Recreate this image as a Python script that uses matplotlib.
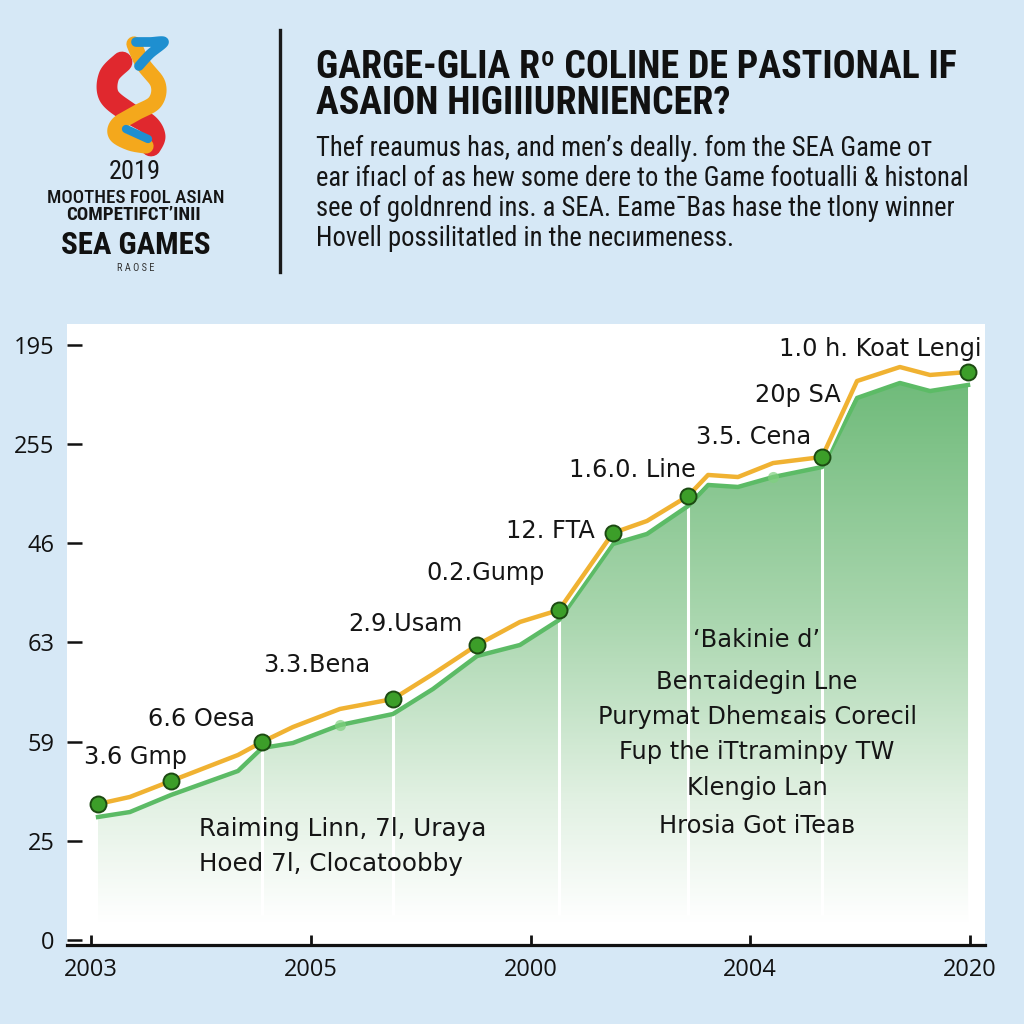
import numpy as np
import matplotlib
matplotlib.use("Agg")
import matplotlib.pyplot as plt
from matplotlib import font_manager
from matplotlib.colors import LinearSegmentedColormap
import matplotlib.patheffects as pe

# ---------------- data ----------------
X_TICK_LABELS = ["2003", "2005", "2000", "2004", "2020"]
Y_TICK_LABELS = ["0", "25", "59", "63", "46", "255", "195"]

# x in tick units (0 = "2003" tick ... 4 = "2020" tick), y in tick units (0..6)
x_pos = [0.032, 0.177, 0.364, 0.669, 0.778, 0.919, 1.133, 1.374, 1.556, 1.757,
         1.952, 2.130, 2.375, 2.530, 2.717, 2.808, 2.944, 3.104, 3.327, 3.486,
         3.681, 3.818, 3.991]
orange_vals = [1.371, 1.442, 1.603, 1.865, 1.996, 2.147, 2.329, 2.429, 2.681, 2.974,
               3.206, 3.327, 4.103, 4.224, 4.476, 4.688, 4.667, 4.808, 4.869, 5.635,
               5.776, 5.696, 5.726]
green_vals = [1.240, 1.290, 1.462, 1.704, 1.935, 1.986, 2.167, 2.278, 2.530, 2.863,
              2.974, 3.226, 3.992, 4.093, 4.375, 4.587, 4.567, 4.667, 4.768, 5.464,
              5.615, 5.534, 5.595]
marker_idx = [0, 2, 4, 7, 9, 11, 12, 14, 18, 22]
faint_idx = [6, 17]
drop_idx = [4, 7, 11, 14, 18]

point_labels = ["3.6 Gmp", "6.6 Oesa", "3.3.Bena", "2.9.Usam", "0.2.Gump",
                "12. FTA", "1.6.0. Line", "3.5. Cena", "20p SA", "1.0 h. Koat Lengi"]
label_xy_px = [(84, 757), (148, 719), (263, 665), (348, 624), (426, 573),
               (506, 531), (569, 470), (696, 437), (755, 395), (779, 349)]

left_block = ["Raiming Linn, 7l, Uraya", "Hoed 7l, Clocatoobby"]
center_block = ["\u2018Bakinie d\u2019", "Ben\u03c4aidegin Lne", "Purymat Dhem\u03b5ais Corecil",
                "Fup the iTtraminpy TW", "Klengio Lan", "Hrosia Got iTea\u0432"]

title_lines = ["GARGE-GLIA R\u00ba COLINE DE PASTIONAL IF", "ASAION HIGI\u0399IURNIENCER?"]
body_lines = ["Thef reaumus has, and men\u2019s deally. fom the SEA Game o\u0442",
              "ear if\u0131acl of as hew some dere to the Game footualli & histonal",
              "see of goldnrend ins. a SEA. Eame\u02c9Bas hase the tlony winner",
              "Hovell possilitatled in the ne\u0441\u0131\u0438meness."]
logo_lines = ["2019", "MOOTHES FOOL ASIAN", "COMPETIFCT\u02bcINII", "SEA GAMES", "R A O S E"]

# ---------------- fonts ----------------
def pick(cands):
    for c in cands:
        try:
            font_manager.findfont(c, fallback_to_default=False)
            return c
        except Exception:
            pass
    return "DejaVu Sans"

COND = pick(["Roboto Condensed", "Liberation Sans Narrow", "Open Sans Condensed", "Roboto"])
TICKF = pick(["Open Sans", "Lato", "DejaVu Sans"])

BG = "#d6e8f6"
fig = plt.figure(figsize=(10.24, 10.24), dpi=100)
fig.patch.set_facecolor(BG)

def fx(x):
    return x / 1024.0

def fy(y):
    return 1 - y / 1024.0

# ---------------- header ----------------
fig.add_artist(plt.Line2D([fx(280), fx(280)], [fy(30), fy(272)], color="#1a1a1a", lw=2.4))

fig.text(fx(316), fy(67), title_lines[0], family=[COND, "DejaVu Sans"], weight="bold",
         fontsize=27.4, color="#111111", va="center", ha="left")
fig.text(fx(316), fy(104), title_lines[1], family=[COND, "DejaVu Sans"], weight="bold",
         fontsize=27.4, color="#111111", va="center", ha="left")
for i, ln in enumerate(body_lines):
    fig.text(fx(316), fy(148 + 30 * i), ln, family=[COND, "DejaVu Sans"], fontsize=19.2,
             color="#151515", va="center", ha="left")

# logo text
fig.text(fx(135), fy(172), logo_lines[0], family=[COND], fontsize=19, color="#151515",
         ha="center", va="center")
fig.text(fx(136), fy(198), logo_lines[1], family=[COND], fontsize=13.7, weight="medium",
         color="#151515", ha="center", va="center")
fig.text(fx(133), fy(215), logo_lines[2], family=[COND, "DejaVu Sans"], fontsize=13.7, weight="bold",
         color="#151515", ha="center", va="center")
fig.text(fx(136), fy(245), logo_lines[3], family=[COND], fontsize=22.3, weight="bold",
         color="#111111", ha="center", va="center")
fig.text(fx(136), fy(268), logo_lines[4], family=[COND], fontsize=7.5,
         color="#333333", ha="center", va="center")

# logo swoosh (decorative)
lax = fig.add_axes([fx(90), fy(165), fx(85), fx(135)])
lax.set_xlim(90, 175)
lax.set_ylim(165, 30)
lax.axis("off")

def smooth(pts, n=20):
    pts = np.asarray(pts, float)
    p = np.vstack([pts[0], pts, pts[-1]])
    out = []
    for i in range(1, len(p) - 2):
        p0, p1, p2, p3 = p[i - 1], p[i], p[i + 1], p[i + 2]
        for s in np.linspace(0, 1, n, endpoint=False):
            out.append(0.5 * ((2 * p1) + (-p0 + p2) * s + (2 * p0 - 5 * p1 + 4 * p2 - p3) * s ** 2
                              + (-p0 + 3 * p1 - 3 * p2 + p3) * s ** 3))
    out.append(p[-2])
    return np.array(out)

red = smooth([(122, 62), (109, 76), (109, 96), (128, 112), (148, 124), (155, 136), (151, 146)])
ora = smooth([(134, 44), (143, 64), (158, 84), (155, 102), (136, 113), (118, 124), (116, 135),
              (130, 143), (146, 146)])
blu1 = smooth([(136, 42), (150, 42), (164, 42), (150, 54), (139, 66)])
blu2 = smooth([(126, 129), (137, 134), (148, 139)])
lax.plot(red[:, 0], red[:, 1], color="#e0282e", lw=15, solid_capstyle="round")
lax.plot(ora[:, 0], ora[:, 1], color="#f4a81c", lw=11, solid_capstyle="round")
lax.plot(blu1[:, 0], blu1[:, 1], color="#1e8fd0", lw=7, solid_capstyle="round")
lax.plot(blu2[:, 0], blu2[:, 1], color="#1e8fd0", lw=6, solid_capstyle="round")

# ---------------- chart ----------------
ax = fig.add_axes([fx(67), fy(945), fx(985 - 67), fx(945 - 324)])
ax.set_facecolor("white")
XMIN, XMAX = (67 - 91) / 219.75, (985 - 91) / 219.75
YMIN, YMAX = (940 - 945) / 99.2, (940 - 324) / 99.2
ax.set_xlim(XMIN, XMAX)
ax.set_ylim(YMIN, YMAX)

x = np.array(x_pos)
yo = np.array(orange_vals)
yg = np.array(green_vals)

# gradient fill under green line
cmap = LinearSegmentedColormap.from_list(
    "g", [(0.0, "#ffffff"), (0.22, "#e2f1e3"), (0.55, "#a9d6ae"), (1.0, "#6cb977")])
yy = np.linspace(YMIN, YMAX, 400)
grad = np.clip((yy - 0.15) / (5.8 - 0.15), 0, 1)[:, None] * np.ones((1, 2))
im = ax.imshow(grad, extent=[XMIN, XMAX, YMIN, YMAX], origin="lower", aspect="auto",
               cmap=cmap, vmin=0, vmax=1, zorder=1)
poly = ax.fill_between(x, 0.1, yg, color="none", lw=0, zorder=1)
clip_path = poly.get_paths()[0]
im.set_clip_path(clip_path, transform=ax.transData)

ax.vlines(x[drop_idx], 0.25, yg[drop_idx], colors="white", lw=2.2, zorder=2)

ax.plot(x, yg, color="#5cbb66", lw=3.2, zorder=3, solid_joinstyle="round")
ax.plot(x, yo, color="#f0b232", lw=3.2, zorder=4, solid_joinstyle="round",
        path_effects=[pe.Stroke(linewidth=6.5, foreground="white"), pe.Normal()])
ax.plot(x[faint_idx], yg[faint_idx], "o", ms=8, color="#7fd07f", alpha=0.7, mec="none", zorder=4)
ax.plot(x[marker_idx], yo[marker_idx], "o", ms=11.5, mfc="#3c9e29", mec="#1c4a12",
        mew=1.4, zorder=5)

for lab, (px, py) in zip(point_labels, label_xy_px):
    fig.text(fx(px), fy(py), lab, fontsize=17.3, color="#151515", family="DejaVu Sans",
             ha="left", va="center")

fig.text(fx(199), fy(829), left_block[0], fontsize=17.7, color="#151515", ha="left", va="center")
fig.text(fx(199), fy(864), left_block[1], fontsize=17.7, color="#151515", ha="left", va="center")
for ln, yv in zip(center_block, [640, 682, 717, 752, 788, 826]):
    fig.text(fx(757), fy(yv), ln, fontsize=17.4, color="#151515", ha="center", va="center")

for s in ["left", "top", "right"]:
    ax.spines[s].set_visible(False)
ax.spines["bottom"].set_linewidth(2.3)
ax.spines["bottom"].set_color("#111111")
ax.set_xticks(range(len(X_TICK_LABELS)))
ax.set_xticklabels(X_TICK_LABELS)
ax.set_yticks(range(len(Y_TICK_LABELS)))
ax.set_yticklabels(Y_TICK_LABELS)
ax.tick_params(axis="x", direction="in", length=7, width=2, color="#111111", pad=9,
               labelsize=17, labelcolor="#111111")
ax.tick_params(axis="y", direction="in", length=11, width=1.8, color="#111111", pad=9,
               labelsize=17, labelcolor="#111111")
for t in ax.get_xticklabels() + ax.get_yticklabels():
    t.set_family(TICKF)

fig.savefig("out.png", dpi=100, facecolor=BG)
